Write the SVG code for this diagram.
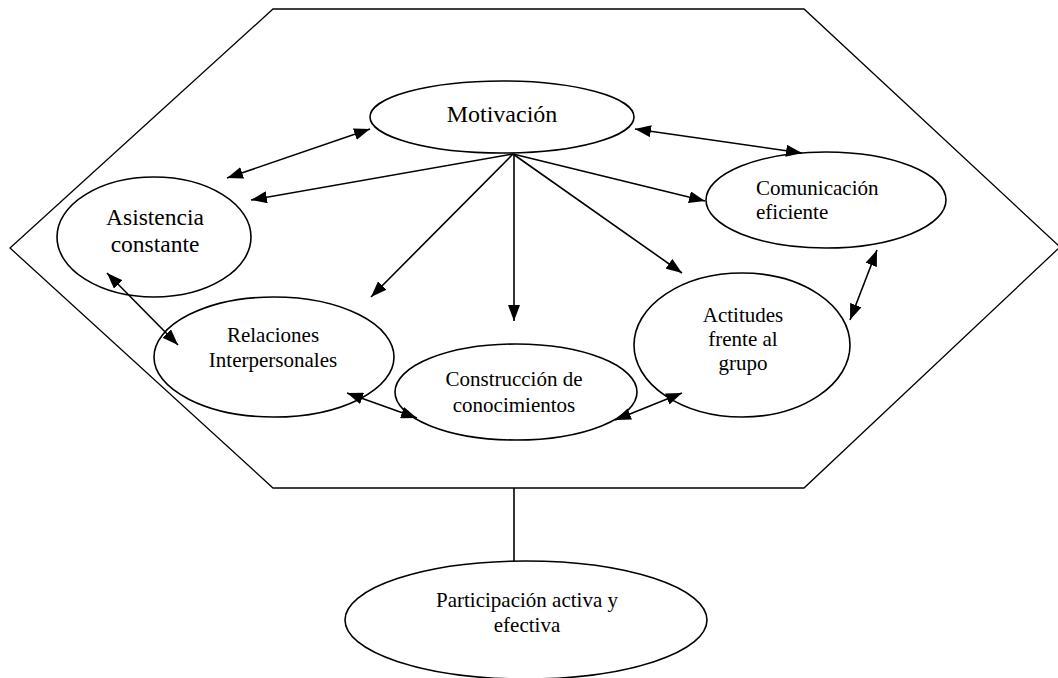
<svg xmlns="http://www.w3.org/2000/svg" width="1058" height="678" viewBox="0 0 1058 678">
<style>
.n{fill:#fff;stroke:#000;stroke-width:1.6}
.t{font-family:"Liberation Serif","Times New Roman",serif;font-size:21px;fill:#000;text-anchor:middle}
.c line{stroke:#000;stroke-width:1.6}
.a{marker-end:url(#ah)}
.d{marker-start:url(#ah);marker-end:url(#ah)}
</style>
<defs>
<marker id="ah" viewBox="0 0 16 12" refX="16" refY="6" markerWidth="16" markerHeight="12" markerUnits="userSpaceOnUse" orient="auto-start-reverse">
<path d="M0,0 L16,6 L0,12 z" fill="#000"/>
</marker>
</defs>
<rect width="1058" height="678" fill="#fff"/>
<g id="hexagon">
<polygon points="273,9 804,9 1060,247 804,488 273,488 10,248" fill="none" stroke="#000" stroke-width="1.3"/>
</g>
<g id="motivacion">
<ellipse class="n" cx="502" cy="117" rx="132" ry="36"/>
<text class="t" x="502" y="122" style="font-size:24px">Motivación</text>
</g>
<g id="asistencia">
<ellipse class="n" cx="154" cy="237" rx="97" ry="60"/>
<text class="t" x="155" y="225" style="font-size:23.5px">Asistencia</text>
<text class="t" x="155" y="252" style="font-size:23.5px">constante</text>
</g>
<g id="comunicacion">
<ellipse class="n" cx="826" cy="200" rx="120" ry="48"/>
<text class="t" x="756" y="195" style="text-anchor:start">Comunicación</text>
<text class="t" x="756" y="219" style="text-anchor:start">eficiente</text>
</g>
<g id="actitudes">
<ellipse class="n" cx="742" cy="345" rx="108" ry="72"/>
<text class="t" x="743" y="322">Actitudes</text>
<text class="t" x="743" y="346">frente al</text>
<text class="t" x="743" y="370">grupo</text>
</g>
<g id="relaciones">
<ellipse class="n" cx="274" cy="357" rx="120" ry="60"/>
<text class="t" x="273" y="342">Relaciones</text>
<text class="t" x="273" y="367">Interpersonales</text>
</g>
<g id="construccion">
<ellipse class="n" cx="516" cy="392" rx="121" ry="48"/>
<text class="t" x="514" y="386">Construcción de</text>
<text class="t" x="514" y="412">conocimientos</text>
</g>
<g id="participacion">
<ellipse class="n" cx="526" cy="620" rx="181" ry="59"/>
<text class="t" x="527" y="607">Participación activa y</text>
<text class="t" x="527" y="632">efectiva</text>
</g>
<g id="connectors" class="c">
<line x1="514" y1="488" x2="514" y2="561"/>
<line class="a" x1="513" y1="154" x2="251" y2="200"/>
<line class="a" x1="513" y1="154" x2="371" y2="297"/>
<line class="a" x1="514" y1="154" x2="514" y2="321"/>
<line class="a" x1="513" y1="154" x2="682" y2="273"/>
<line class="a" x1="513" y1="154" x2="705" y2="201"/>
<line class="d" x1="227" y1="178" x2="370" y2="129"/>
<line class="d" x1="635" y1="129" x2="802" y2="153"/>
<line class="d" x1="877" y1="250" x2="850" y2="320"/>
<line class="d" x1="107" y1="273" x2="178" y2="345"/>
<line class="d" x1="347" y1="393" x2="417" y2="418"/>
<line class="d" x1="615" y1="420" x2="682" y2="393"/>
</g>
</svg>
